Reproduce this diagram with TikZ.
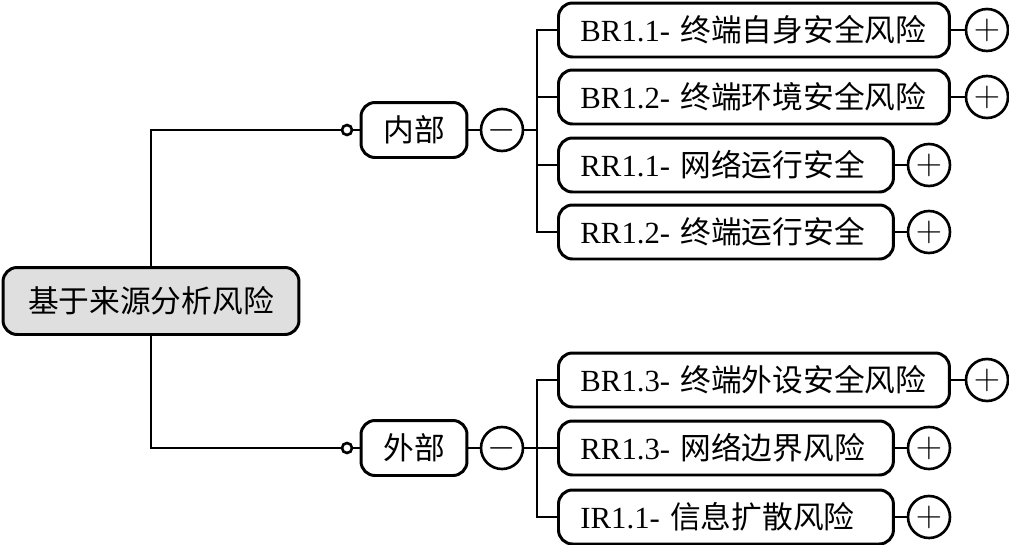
\documentclass[tikz,border=0pt]{standalone}
\usepackage{fontspec}
\setmainfont{Liberation Serif}
\newfontfamily\cjk{Noto Sans CJK SC}
\usetikzlibrary{positioning}

\tikzset{
    mapbox/.style={draw, line width=1.7pt, rounded corners=8pt, minimum height=1.08cm,
        inner xsep=0pt, font=\fontsize{17.5}{20}\selectfont},
    rootbox/.style={mapbox, fill=gray!25, minimum width=5.92cm, minimum height=1.34cm},
    sidebox/.style={mapbox, minimum width=2.12cm, minimum height=1.1cm},
    widebox/.style={mapbox, anchor=west, inner xsep=0.44cm, text width=6.94cm, align=left},
    narrowbox/.style={mapbox, anchor=west, inner xsep=0.44cm, text width=5.82cm, align=left},
    knob/.style={draw, circle, line width=1.5pt, minimum size=0.84cm, inner sep=0pt,
        font=\fontsize{21}{24}\selectfont},
    dot/.style={draw, circle, line width=1.5pt, minimum size=0.2cm, inner sep=0pt},
    link/.style={line width=1.4pt}
}

\begin{document}
\begin{tikzpicture}[x=0.02cm, y=-0.02cm]
        \useasboundingbox (0,0) rectangle (1009,545);
        % Draw root
        \node[rootbox] (root) at (151,301) {\cjk 基于来源分析风险};
        % Draw inner and outer branches
        \node[sidebox] (inner) at (414,130) {\cjk 内部};
        \node[sidebox] (outer) at (414,448) {\cjk 外部};
        \node[dot] (innerdot) at (347,130) {};
        \node[dot] (outerdot) at (347,448) {};
        \node[knob] (innerknob) at (502,130) {$-$};
        \node[knob] (outerknob) at (502,448) {$-$};
        \coordinate (innerbus) at (537,130);
        \coordinate (outerbus) at (537,448);
        % Draw leaves
        \node[widebox] (br11) at (557,30) {BR1.1- {\cjk 终端自身安全风险}};
        \node[widebox] (br12) at (557,97) {BR1.2- {\cjk 终端环境安全风险}};
        \node[narrowbox] (rr11) at (557,165) {RR1.1- {\cjk 网络运行安全}};
        \node[narrowbox] (rr12) at (557,232) {RR1.2- {\cjk 终端运行安全}};
        \node[widebox] (br13) at (557,380) {BR1.3- {\cjk 终端外设安全风险}};
        \node[narrowbox] (rr13) at (557,448) {RR1.3- {\cjk 网络边界风险}};
        \node[narrowbox] (ir11) at (557,517) {IR1.1- {\cjk 信息扩散风险}};
        % Add the collapsed signifiers
        \node[knob] (br11plus) at (987,30) {$+$};
        \node[knob] (br12plus) at (987,97) {$+$};
        \node[knob] (rr11plus) at (929,165) {$+$};
        \node[knob] (rr12plus) at (929,232) {$+$};
        \node[knob] (br13plus) at (987,380) {$+$};
        \node[knob] (rr13plus) at (929,448) {$+$};
        \node[knob] (ir11plus) at (929,517) {$+$};
        % Draw connectors
        \draw[link] (root.north) |- (innerdot);
        \draw[link] (root.south) |- (outerdot);
        \draw[link] (innerdot) -- (inner) (inner) -- (innerknob) (innerknob) -- (innerbus);
        \draw[link] (outerdot) -- (outer) (outer) -- (outerknob) (outerknob) -- (outerbus);
        \draw[link] (innerbus) |- (br11.west) (innerbus) |- (br12.west)
            (innerbus) |- (rr11.west) (innerbus) |- (rr12.west);
        \draw[link] (outerbus) |- (br13.west) (outerbus) |- (rr13.west)
            (outerbus) |- (ir11.west);
        \draw[link] (br11) -- (br11plus) (br12) -- (br12plus) (rr11) -- (rr11plus)
            (rr12) -- (rr12plus) (br13) -- (br13plus) (rr13) -- (rr13plus)
            (ir11) -- (ir11plus);
    \end{tikzpicture}
\end{document}
